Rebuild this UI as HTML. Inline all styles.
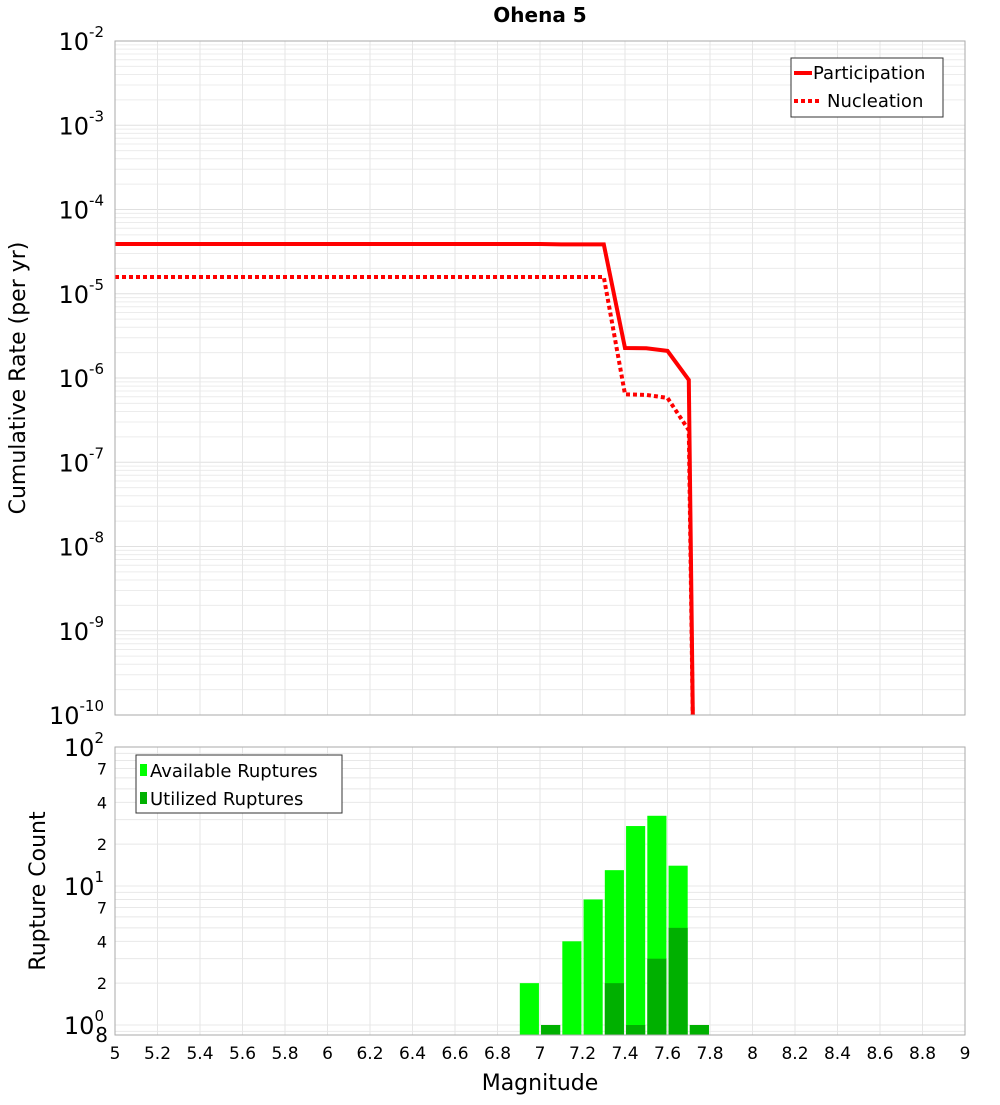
<!DOCTYPE html>
<html><head><meta charset="utf-8"><style>
body{margin:0;background:#fff;font-family:"Liberation Sans","DejaVu Sans",sans-serif}
svg text{font-family:"DejaVu Sans","Liberation Sans",sans-serif}
</style></head><body>
<svg id="chart" width="1000" height="1100" xmlns="http://www.w3.org/2000/svg">
<defs><clipPath id="tc"><rect x="115" y="41" width="850" height="674"/></clipPath></defs>
<text x="540" y="22" text-anchor="middle" font-size="20" font-weight="bold">Ohena 5</text>
<g id="gtop"></g><g id="gbot"></g>
</svg>
<script>
const partMags=[5.0,7.0,7.1,7.2,7.3,7.4,7.5,7.6,7.7,7.8];
const partRates=[3.9e-5,3.9e-5,3.85e-5,3.85e-5,3.85e-5,2.27e-6,2.25e-6,2.1e-6,9.5e-7,1e-27];
const nuclMags=[5.0,7.0,7.1,7.2,7.3,7.4,7.5,7.6,7.7,7.8];
const nuclRates=[1.58e-5,1.58e-5,1.58e-5,1.58e-5,1.58e-5,6.4e-7,6.3e-7,5.8e-7,2.4e-7,1e-25];
const binMags=[6.95,7.05,7.15,7.25,7.35,7.45,7.55,7.65,7.75];
const availCounts=[2,1,4,8,13,27,32,14,1];
const usedCounts=[0,1,0,0,2,1,3,5,1];
const xTicks=[5,5.2,5.4,5.6,5.8,6,6.2,6.4,6.6,6.8,7,7.2,7.4,7.6,7.8,8,8.2,8.4,8.6,8.8,9];
const topDecades=[-2,-3,-4,-5,-6,-7,-8,-9,-10];
const botMinor=[[7,"7"],[4,"4"],[2,"2"],[70,"7"],[40,"4"],[20,"2"]];

const NS="http://www.w3.org/2000/svg";
const X0=115,X1=965,T0=41,T1=715,B0=747,B1=1035;
const xs=m=>X0+(m-5)/4*(X1-X0);
const yt=v=>T0+(-2-Math.log10(v))*(T1-T0)/8;
const yb=v=>B0+(2-Math.log10(v))*139;
function el(tag,attrs,parent,txt){const e=document.createElementNS(NS,tag);for(const k in attrs)e.setAttribute(k,attrs[k]);if(txt!==undefined)e.textContent=txt;parent.appendChild(e);return e;}
const gTop=document.getElementById('gtop'),gBot=document.getElementById('gbot');
for(let d=-10;d<-2;d++)for(let k=1;k<10;k++){const yy=yt(k*Math.pow(10,d));const l=el('line',{x1:X0,x2:X1,y1:yy,y2:yy,stroke:k==1?'#e0e0e0':'#ececec','stroke-width':1},gTop);}
for(let d=-1;d<2;d++)for(let k=1;k<10;k++){const v=k*Math.pow(10,d);const yy=yb(v);if(yy>B1||yy<B0)continue;const l=el('line',{x1:X0,x2:X1,y1:yy,y2:yy,stroke:'#e8e8e8','stroke-width':1},gBot);}
xTicks.forEach(t=>{[[T0,T1,gTop],[B0,B1,gBot]].forEach(([a,b,g])=>{const l=el('line',{x1:xs(t),x2:xs(t),y1:a,y2:b,stroke:'#e6e6e6','stroke-width':1},g);});
 const tl=el('text',{x:xs(t),y:1059,'text-anchor':'middle','font-size':17},gBot,String(t));});
topDecades.forEach(d=>{const g=el('text',{x:104,y:yt(Math.pow(10,d))+9,'text-anchor':'end','font-size':24},gTop);
 el('tspan',{},g,'10');el('tspan',{dy:-13,'font-size':15},g,String(d));});
function path(ms,rs){return ms.map((m,i)=>(i?'L':'M')+xs(m).toFixed(1)+','+Math.min(yt(rs[i]),5000).toFixed(1)).join(' ');}
const pl=el('path',{d:path(partMags,partRates),fill:'none',stroke:'#ff0000','stroke-width':4,'clip-path':'url(#tc)'},gTop);

const nl=el('path',{d:path(nuclMags,nuclRates),fill:'none',stroke:'#ff0000','stroke-width':4,'stroke-dasharray':'4,3','clip-path':'url(#tc)'},gTop);

const tf=el('rect',{x:X0,y:T0,width:X1-X0,height:T1-T0,fill:'none',stroke:'#aaa'},gTop);
const lg=el('g',{},gTop);
el('rect',{x:791,y:58,width:152,height:59,fill:'#fff',stroke:'#333'},lg);
el('line',{x1:794,x2:812,y1:73,y2:73,stroke:'#f00','stroke-width':4},lg);
el('text',{x:813,y:79,'font-size':18},lg,'Participation');
el('line',{x1:794,x2:822,y1:101,y2:101,stroke:'#f00','stroke-width':4,'stroke-dasharray':'4,3'},lg);
el('text',{x:827,y:107,'font-size':18},lg,'Nucleation');
const yl=el('text',{x:25,y:378,'text-anchor':'middle','font-size':22,transform:'rotate(-90 25 378)'},gTop,'Cumulative Rate (per yr)');
const bw=(X1-X0)/40*0.9;
binMags.forEach((m,i)=>{
 if(availCounts[i]>0){const r=el('rect',{x:xs(m)-bw/2,y:yb(availCounts[i]),width:bw,height:B1-yb(availCounts[i]),fill:'#00ff00'},gBot);}
 if(usedCounts[i]>0){const r=el('rect',{x:xs(m)-bw/2,y:yb(usedCounts[i]),width:bw,height:B1-yb(usedCounts[i]),fill:'#00b000'},gBot);}
});
const bf=el('rect',{x:X0,y:B0,width:X1-X0,height:B1-B0,fill:'none',stroke:'#aaa'},gBot);
[[100,'2'],[10,'1'],[1,'0']].forEach(([v,e])=>{const g=el('text',{x:104,y:yb(v)+9,'text-anchor':'end','font-size':24},gBot);el('tspan',{},g,'10');el('tspan',{dy:-13,'font-size':15},g,e);});
botMinor.forEach(([v,s])=>{const t=el('text',{x:107,y:yb(v)+6,'text-anchor':'end','font-size':16},gBot,s);});
const e8=el('text',{x:108,y:1042,'text-anchor':'end','font-size':20},gBot,'8');
const bl=el('g',{},gBot);
el('rect',{x:136,y:755,width:206,height:58,fill:'#fff',stroke:'#333'},bl);
el('rect',{x:140,y:764,width:7,height:12,fill:'#00ff00'},bl);
el('text',{x:150,y:777,'font-size':18},bl,'Available Ruptures');
el('rect',{x:140,y:792,width:7,height:12,fill:'#00b000'},bl);
el('text',{x:150,y:805,'font-size':18},bl,'Utilized Ruptures');
const by=el('text',{x:45,y:891,'text-anchor':'middle','font-size':22,transform:'rotate(-90 45 891)'},gBot,'Rupture Count');
const xt=el('text',{x:540,y:1090,'text-anchor':'middle','font-size':22},gBot,'Magnitude');
</script>
</body></html>
